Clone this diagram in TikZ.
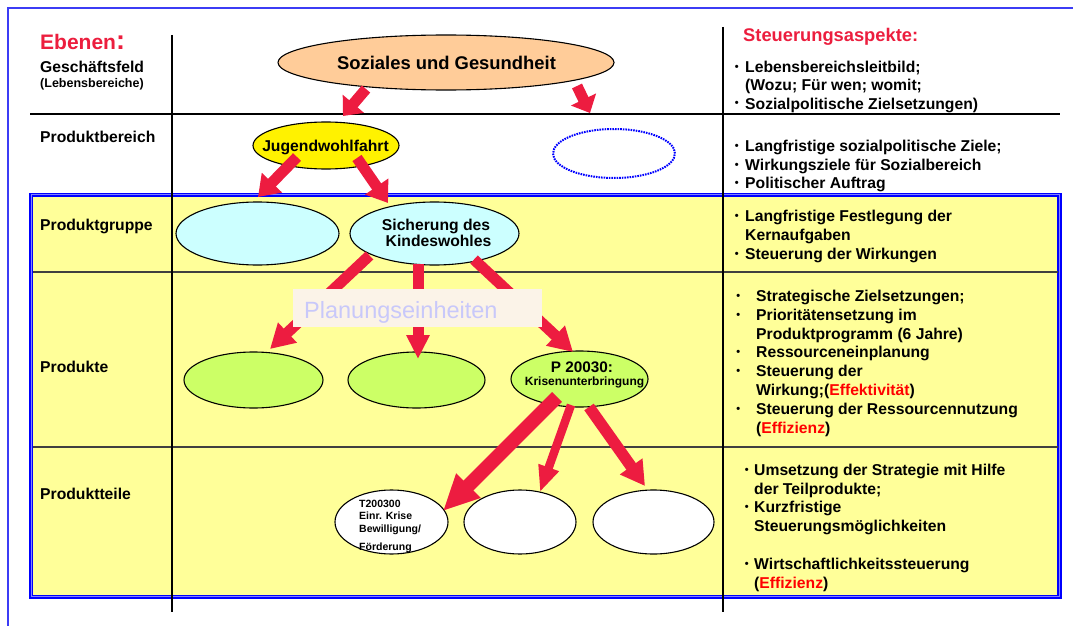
\documentclass[tikz,border=0pt]{standalone}
\usepackage{fontspec}
\setmainfont{Liberation Sans}
\usetikzlibrary{arrows.meta,shapes.geometric,calc}
\definecolor{arrred}{RGB}{237,28,64}
\definecolor{ebred}{RGB}{236,30,62}
\definecolor{bgyellow}{RGB}{255,255,153}
\definecolor{peach}{RGB}{255,204,153}
\definecolor{lcyan}{RGB}{204,255,255}
\definecolor{lgreen}{RGB}{204,255,102}
\definecolor{frameblue}{RGB}{0,0,255}
\definecolor{pageframe}{RGB}{60,60,245}
\definecolor{lightframe}{RGB}{130,130,255}
\definecolor{planfill}{RGB}{251,243,232}
\definecolor{plantext}{RGB}{200,200,250}
\definecolor{effred}{RGB}{255,0,0}
\newcommand{\bdot}[1]{\llap{{\fontsize{11}{11}\selectfont\raisebox{2pt}{•}}\hspace{#1}}}
\begin{document}
\begin{tikzpicture}[x=1pt,y=-1pt,
  lab/.style={font=\bfseries\fontsize{15.7}{18}\selectfont, anchor=base west, inner sep=0pt},
  rt/.style={font=\bfseries\fontsize{15.7}{18}\selectfont, anchor=base west, inner sep=0pt},
  ctext/.style={font=\bfseries\fontsize{15.7}{18}\selectfont, anchor=base, inner sep=0pt},
  small/.style={font=\bfseries\fontsize{10.5}{12}\selectfont, anchor=base west, inner sep=0pt},
  ell/.style={ellipse, draw=black, line width=1.1pt, inner sep=0pt},
  gridline/.style={draw=black, line width=1.2pt},
  arr/.style n args={3}{draw=arrred, line width=#1, -{Triangle[length=#2,width=#3]}}]
\useasboundingbox (0,0) rectangle (1073,626);
\fill[white] (0,0) rectangle (1073,626);
% outer page frame
\draw[pageframe, line width=1.8pt] (8,626) -- (8,8) -- (1073,8);
% yellow area with blue double frame
\fill[bgyellow] (31.2,194.7) rectangle (1059.5,596.8);
\draw[frameblue, line width=4.4pt] (31.2,194.7) rectangle (1059.5,596.8);
\draw[lightframe, line width=0.9pt] (31.4,194.9) rectangle (1059.3,596.6);
% grid
\draw[gridline] (30,114) -- (1060,114);
\draw[gridline, draw=black!75] (33,272) -- (1058,272);
\draw[gridline, draw=black!75] (33,447) -- (1058,447);
\draw[gridline] (172,35) -- (172,612);
\draw[gridline] (723,27) -- (723,612);

% left labels
\node[lab, font=\bfseries\fontsize{21}{24}\selectfont, text=ebred] (ebenen) at (40,50) {Ebenen{\fontsize{27}{27}\selectfont :}};
\node[lab] (gf) at (40,72.3) {Geschäftsfeld};
\node[lab, font=\bfseries\fontsize{12.5}{14}\selectfont] (lb) at (40,87.3) {(Lebensbereiche)};
\node[lab] (pb) at (40,142.7) {Produktbereich};
\node[lab] (pg) at (40,230.5) {Produktgruppe};
\node[lab] (pk) at (40,372.3) {Produkte};
\node[lab] (pt) at (40,499) {Produktteile};

% right column
\node[rt, font=\bfseries\fontsize{18.3}{20}\selectfont, text=ebred] (steu) at (743,41.7) {Steuerungsaspekte:};
\node[rt] (s1a) at (745,72.7) {\bdot{6.6pt}Lebensbereichsleitbild;};
\node[rt] (s1b) at (745,90.7) {(Wozu; Für wen; womit;};
\node[rt] (s1c) at (745,109) {\bdot{6.6pt}Sozialpolitische Zielsetzungen)};
\node[rt] (s2a) at (745,151.5) {\bdot{6.6pt}Langfristige sozialpolitische Ziele;};
\node[rt] (s2b) at (745,170) {\bdot{6.6pt}Wirkungsziele für Sozialbereich};
\node[rt] (s2c) at (745,188.5) {\bdot{6.6pt}Politischer Auftrag};
\node[rt] (s3a) at (745,221.7) {\bdot{6.6pt}Langfristige Festlegung der};
\node[rt] (s3b) at (745,240.7) {Kernaufgaben};
\node[rt] (s3c) at (745,259.3) {\bdot{6.6pt}Steuerung der Wirkungen};
\node[rt] (s4a) at (756,301) {\bdot{16pt}Strategische Zielsetzungen;};
\node[rt] (s4b) at (756,320) {\bdot{16pt}Prioritätensetzung im};
\node[rt] (s4c) at (756,339) {Produktprogramm (6 Jahre)};
\node[rt] (s4d) at (756,357.7) {\bdot{16pt}Ressourceneinplanung};
\node[rt] (s4e) at (756,376.7) {\bdot{16pt}Steuerung der};
\node[rt] (s4f) at (756,395.7) {Wirkung;(\textcolor{effred}{Effektivität})};
\node[rt] (s4g) at (756,414.3) {\bdot{16pt}Steuerung der Ressourcennutzung};
\node[rt] (s4h) at (756,433.3) {(\textcolor{effred}{Effizienz})};
\node[rt] (s5a) at (754,475) {\bdot{5.6pt}Umsetzung der Strategie mit Hilfe};
\node[rt] (s5b) at (754,494) {der Teilprodukte;};
\node[rt] (s5c) at (754,512.7) {\bdot{5.6pt}Kurzfristige};
\node[rt] (s5d) at (754,531.7) {Steuerungsmöglichkeiten};
\node[rt] (s5e) at (754,569.3) {\bdot{5.6pt}Wirtschaftlichkeitssteuerung};
\node[rt] (s5f) at (754,588.3) {(\textcolor{effred}{Effizienz})};

% ellipses
\node[ell, fill=peach, minimum width=336pt, minimum height=55pt] (soz) at (446,62.5) {};
\node[ell, fill=yellow, minimum width=146pt, minimum height=47pt] (jug) at (326,145.5) {};
\node[ellipse, draw=frameblue, line width=2pt, dash pattern=on 1.6pt off 1pt, minimum width=122pt, minimum height=49pt, inner sep=0pt] (dot) at (614,153.5) {};
\node[ell, fill=lcyan, minimum width=163pt, minimum height=63pt] (pg1) at (257.5,233.5) {};
\node[ell, fill=lcyan, minimum width=169pt, minimum height=63pt] (sich) at (434.5,233.5) {};
\node[ell, fill=lgreen, minimum width=139pt, minimum height=56pt] (pk1) at (253.5,380) {};
\node[ell, fill=lgreen, minimum width=137pt, minimum height=56pt] (pk2) at (416.5,380) {};
\node[ell, fill=lgreen, minimum width=137pt, minimum height=56pt] (p20) at (579.5,379) {};
\node[ell, fill=white, minimum width=113pt, minimum height=64pt] (pt1) at (391.5,522) {};
\node[ell, fill=white, minimum width=112pt, minimum height=64pt] (pt2) at (520,522) {};
\node[ell, fill=white, minimum width=121pt, minimum height=64pt] (pt3) at (653.5,522) {};

% ellipse texts
\node[ctext, font=\bfseries\fontsize{18.4}{20}\selectfont] (sozT) at (446.5,69.3) {Soziales und Gesundheit};
\node[ctext] (jugT) at (325.5,151.7) {Jugendwohlfahrt};
\node[ctext] (sichT1) at (436,230) {Sicherung des};
\node[ctext] (sichT2) at (438.5,246.7) {Kindeswohles};
\node[ctext, font=\bfseries\fontsize{15.3}{17}\selectfont] (p20T1) at (582,372.7) {P 20030:};
\node[ctext, font=\bfseries\fontsize{12}{13}\selectfont] (p20T2) at (584.5,385) {Krisenunterbringung};
\node[small] (t1) at (359,507) {T200300};
\node[small] (t2) at (359,519.3) {Einr. Krise};
\node[small] (t3) at (359,532) {Bewilligung/};
\node[small] (t4) at (359,550.3) {Förderung};

% arrows
\draw[arr={11pt}{16pt}{27pt}] ($(soz)+(-80,26.5)$) -- ($(jug)+(17,-29.5)$);
\draw[arr={11pt}{15pt}{27pt}] ($(soz)+(131,23.5)$) -- ($(dot)+(-24,-40.5)$);
\draw[arr={11pt}{20pt}{27pt}] ($(jug)+(-29,11.5)$) -- ($(pg1)+(0.5,-36.5)$);
\draw[arr={11pt}{20pt}{27pt}] ($(jug)+(31,12.5)$) -- ($(sich)+(-46.5,-30.5)$);
\draw[arr={11pt}{24pt}{26pt}] ($(sich)+(-65,22)$) -- ($(pk1)+(16.5,-31)$);
\draw[arr={11pt}{24pt}{22pt}] ($(sich)+(-16.5,30.5)$) -- ($(pk2)+(1.5,-21)$);
\draw[arr={11pt}{24pt}{26pt}] ($(sich)+(39.5,26)$) -- ($(p20)+(-6.5,-27)$);
\draw[arr={14pt}{36pt}{32pt}] ($(p20)+(-22.5,18)$) -- ($(pt1)+(51.5,-11)$);
\draw[arr={8.5pt}{26pt}{20pt}] ($(p20)+(-8.5,26)$) -- ($(pt2)+(20,-30)$);
\draw[arr={11.5pt}{24pt}{26pt}] ($(p20)+(9.5,28)$) -- ($(pt3)+(-8.5,-36)$);

% Planungseinheiten overlay
\node[fill=planfill, minimum width=249pt, minimum height=38pt, inner sep=0pt] (plan) at (417.5,308) {};
\node[anchor=base west, inner sep=0pt, text=plantext, font=\fontsize{23.5}{26}\selectfont] (planT) at (304,318.3) {Planungseinheiten};
\end{tikzpicture}
\end{document}
